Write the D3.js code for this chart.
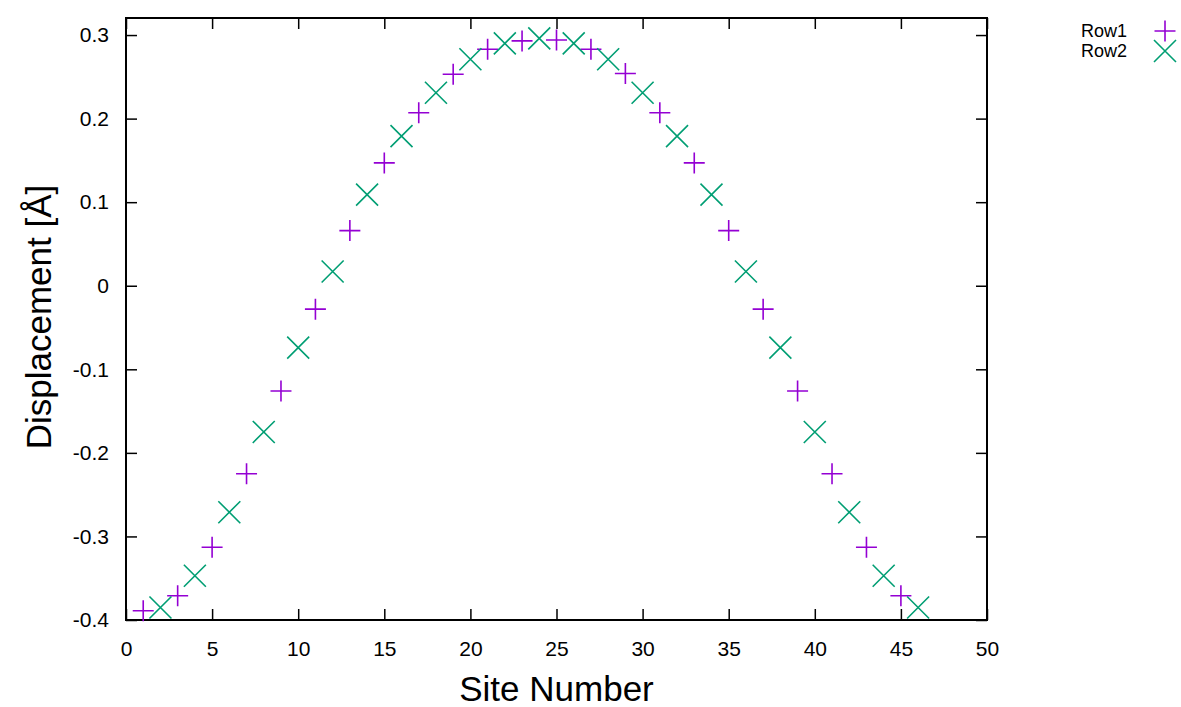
<!DOCTYPE html>
<html>
<head>
<meta charset="utf-8">
<script src="https://cdn.jsdelivr.net/npm/d3@7"></script>
<style>
  body { margin: 0; background: #fff; }
  text { font-family: "Liberation Sans", Arial, sans-serif; fill: #000; }
</style>
</head>
<body>
<div id="chart"></div>
<script>
/* DATA */
const row1Sites = [1, 3, 5, 7, 9, 11, 13, 15, 17, 19, 21, 23, 25, 27, 29, 31, 33, 35, 37, 39, 41, 43, 45];
const row1Values = [-0.389, -0.371, -0.313, -0.225, -0.126, -0.028, 0.066, 0.147, 0.207, 0.253, 0.283, 0.293,
  0.294, 0.283, 0.254, 0.207, 0.147, 0.066, -0.028, -0.126, -0.225, -0.313, -0.371];
const row2Sites = [2, 4, 6, 8, 10, 12, 14, 16, 18, 20, 22, 24, 26, 28, 30, 32, 34, 36, 38, 40, 42, 44, 46];
const row2Values = [-0.385, -0.347, -0.271, -0.175, -0.074, 0.017, 0.109, 0.179, 0.231, 0.271, 0.290, 0.296,
  0.290, 0.271, 0.231, 0.179, 0.109, 0.017, -0.074, -0.175, -0.271, -0.347, -0.385];
const xTicks = [0, 5, 10, 15, 20, 25, 30, 35, 40, 45, 50];
const yTicks = [-0.4, -0.3, -0.2, -0.1, 0, 0.1, 0.2, 0.3];
const seriesNames = ["Row1", "Row2"];

/* CONSTANTS */
const width = 1181,
  height = 707,
  margin = { top: 18, bottom: 87, left: 126, right: 194 },
  colors = ["#9400d3", "#009e73"];

// gnuplot-like stroked markers
const plusSymbol = {
  draw(ctx, size) {
    const r = size;
    ctx.moveTo(-r, 0); ctx.lineTo(r, 0);
    ctx.moveTo(0, -r); ctx.lineTo(0, r);
  }
};
const timesSymbol = {
  draw(ctx, size) {
    const r = size;
    ctx.moveTo(-r, -r); ctx.lineTo(r, r);
    ctx.moveTo(-r, r); ctx.lineTo(r, -r);
  }
};

const series = [
  { name: seriesNames[0], symbol: plusSymbol, size: 10.5, data: row1Sites.map((s, i) => ({ x: s, y: row1Values[i] })) },
  { name: seriesNames[1], symbol: timesSymbol, size: 11, data: row2Sites.map((s, i) => ({ x: s, y: row2Values[i] })) },
];

// gnuplot prints a plain hyphen for negatives
const fmtY = d => d === 0 ? "0" : d3.format(".1f")(d).replace("\u2212", "-");

const svg = d3.select("#chart").append("svg")
  .attr("width", width)
  .attr("height", height);

const xScale = d3.scaleLinear()
  .domain([0, 50])
  .range([margin.left, width - margin.right]);

const yScale = d3.scaleLinear()
  .domain([-0.4, 0.3204])
  .range([height - margin.bottom, margin.top]);

const x0 = margin.left, x1 = width - margin.right,
  y0 = height - margin.bottom, y1 = margin.top;

// AXES (inward ticks, mirrored)
const tickLen = 11;
svg.append("g")
  .attr("transform", `translate(0,${y0})`)
  .call(d3.axisBottom(xScale).tickValues(xTicks).tickSize(-tickLen).tickPadding(21).tickFormat(d3.format("d")))
  .call(g => g.select(".domain").remove())
  .call(g => g.selectAll("line").attr("stroke", "#000").attr("stroke-width", 1.5))
  .call(g => g.selectAll("text").attr("font-size", 21).attr("font-family", "Liberation Sans, Arial, sans-serif"));

svg.append("g")
  .attr("transform", `translate(0,${y1})`)
  .call(d3.axisTop(xScale).tickValues(xTicks).tickSize(-tickLen).tickFormat(""))
  .call(g => g.select(".domain").remove())
  .call(g => g.selectAll("line").attr("stroke", "#000").attr("stroke-width", 1.5));

svg.append("g")
  .attr("transform", `translate(${x0},0)`)
  .call(d3.axisLeft(yScale).tickValues(yTicks).tickSize(-tickLen).tickPadding(17).tickFormat(fmtY))
  .call(g => g.select(".domain").remove())
  .call(g => g.selectAll("line").attr("stroke", "#000").attr("stroke-width", 1.5))
  .call(g => g.selectAll("text").attr("font-size", 21).attr("font-family", "Liberation Sans, Arial, sans-serif"));

svg.append("g")
  .attr("transform", `translate(${x1},0)`)
  .call(d3.axisRight(yScale).tickValues(yTicks).tickSize(-tickLen).tickFormat(""))
  .call(g => g.select(".domain").remove())
  .call(g => g.selectAll("line").attr("stroke", "#000").attr("stroke-width", 1.5));

// frame
svg.append("rect")
  .attr("x", x0).attr("y", y1)
  .attr("width", x1 - x0).attr("height", y0 - y1)
  .attr("fill", "none")
  .attr("stroke", "#000")
  .attr("stroke-width", 2);

// axis labels
svg.append("text")
  .attr("x", (x0 + x1) / 2)
  .attr("y", 701)
  .attr("text-anchor", "middle")
  .attr("font-size", 35)
  .text("Site Number");

svg.append("text")
  .attr("transform", `translate(51,317) rotate(-90)`)
  .attr("text-anchor", "middle")
  .attr("font-size", 35)
  .text("Displacement [Å]");

// points
series.forEach((s, i) => {
  const sym = d3.symbol().type(s.symbol).size(s.size);
  svg.append("g")
    .selectAll("path")
    .data(s.data)
    .join("path")
    .attr("transform", d => `translate(${xScale(d.x)},${yScale(d.y)})`)
    .attr("d", sym)
    .attr("fill", "none")
    .attr("stroke", colors[i])
    .attr("stroke-width", 1.6);
});

// legend
const legend = svg.append("g").attr("class", "legend");
series.forEach((s, i) => {
  const ly = 31 + i * 20;
  legend.append("text")
    .attr("x", 1127)
    .attr("y", ly)
    .attr("dy", "0.35em")
    .attr("text-anchor", "end")
    .attr("font-size", 18)
    .text(s.name);
  legend.append("path")
    .attr("transform", `translate(1165,${ly})`)
    .attr("d", d3.symbol().type(s.symbol).size(s.size)())
    .attr("fill", "none")
    .attr("stroke", colors[i])
    .attr("stroke-width", 1.6);
});
</script>
</body>
</html>
